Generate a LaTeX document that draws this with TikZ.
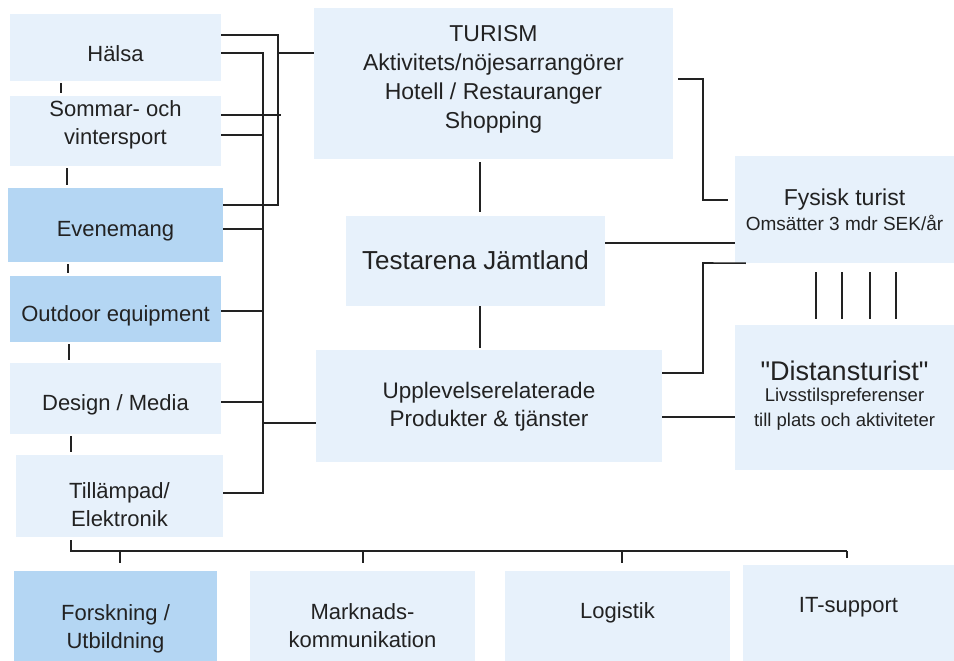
\documentclass[tikz,border=0pt]{standalone}
\usepackage{fontspec}
\setmainfont{Liberation Sans}
\definecolor{paleblue}{HTML}{E7F1FB}
\definecolor{midblue}{HTML}{B4D6F3}
\definecolor{inkgray}{HTML}{222222}
% move the lines of a box up or down, keeping the box size
\newcommand{\nudge}[2]{\raisebox{\dimexpr#1-3pt\relax}[\height][\depth]{\begin{tabular}{@{}c@{}}#2\end{tabular}}}
\tikzset{
  box/.style={fill=paleblue, inner sep=0pt, align=center, text=inkgray,
    font=\fontsize{22}{28}\selectfont},
  darkbox/.style={box, fill=midblue},
  link/.style={line width=1.6pt, draw=inkgray},
}
\begin{document}
\begin{tikzpicture}[x=1pt,y=-1pt]
\useasboundingbox (0,0) rectangle (954,661);
% left column
\node[box, minimum width=211pt, minimum height=67pt] (halsa) at (115.5,47.5) {\nudge{-5.5pt}{Hälsa}};
\node[box, minimum width=211pt, minimum height=70pt] (sommar) at (115.5,131) {\nudge{9pt}{Sommar- och\\vintersport}};
\node[darkbox, minimum width=215pt, minimum height=74pt] (evenemang) at (115.5,225) {\nudge{-3pt}{Evenemang}};
\node[darkbox, minimum width=211pt, minimum height=66pt] (outdoor) at (115.5,309) {\nudge{-4pt}{Outdoor equipment}};
\node[box, minimum width=211pt, minimum height=71pt] (design) at (115.5,398.5) {\nudge{-3.5pt}{Design / Media}};
\node[box, minimum width=207pt, minimum height=82pt] (tillampad) at (119.5,496) {\nudge{-7.5pt}{Tillämpad/\\Elektronik}};
% middle
\node[box, minimum width=359pt, minimum height=151pt, font=\fontsize{23}{29}\selectfont] (turism) at (493.5,83.5)
  {\nudge{7.5pt}{TURISM\\Aktivitets/nöjesarrangörer\\Hotell / Restauranger\\Shopping}};
\node[box, minimum width=259pt, minimum height=90pt, font=\fontsize{26}{30}\selectfont] (testarena) at (475.5,261) {\nudge{1pt}{Testarena Jämtland}};
\node[box, minimum width=346pt, minimum height=112pt, font=\fontsize{22.5}{28}\selectfont] (upplev) at (489,406)
  {\nudge{2pt}{Upplevelserelaterade\\Produkter \& tjänster}};
% right
\node[box, minimum width=219pt, minimum height=107pt, font=\fontsize{19}{25}\selectfont] (fysisk) at (844.5,209.5)
  {\nudge{0pt}{{\fontsize{23}{25}\selectfont Fysisk turist}\\Omsätter 3 mdr SEK/år}};
\node[box, minimum width=219pt, minimum height=145pt, font=\fontsize{18.5}{25}\selectfont] (distans) at (844.5,397.5)
  {\nudge{3pt}{{\fontsize{27}{27}\selectfont \textquotedbl Distansturist\textquotedbl}\\[-4pt]Livsstilspreferenser\\till plats och aktiviteter}};
% bottom row
\node[darkbox, minimum width=203pt, minimum height=90pt] (forskning) at (115.5,616) {\nudge{-10pt}{Forskning /\\Utbildning}};
\node[box, minimum width=225pt, minimum height=90pt] (marknad) at (362.5,616) {\nudge{-9pt}{Marknads-\\kommunikation}};
\node[box, minimum width=225pt, minimum height=90pt] (logistik) at (617.5,616) {\nudge{6pt}{Logistik}};
\node[box, minimum width=211pt, minimum height=96pt] (itsupport) at (848.5,613) {\nudge{9pt}{IT-support}};

% ticks down the left column
\foreach \a/\b/\x in {halsa/sommar/61, sommar/evenemang/67, evenemang/outdoor/68,
                      outdoor/design/69, design/tillampad/71}
  \draw[link, shorten <=2pt, shorten >=3pt] (\a.south -| \x,0) -- (\b.north -| \x,0);

% bus towards TURISM
\draw[link] (halsa.east |- 0,35) -| (278,205) -- (evenemang.east |- 0,205);
\draw[link] (sommar.east |- 0,115) -- (281,115);
\draw[link] (278,53) -- (turism.west |- 0,53);

% bus towards Upplevelserelaterade
\draw[link] (halsa.east |- 0,53) -| (263,493) -- (tillampad.east |- 0,493);
\foreach \n/\y in {sommar/135, evenemang/229, outdoor/311, design/402}
  \draw[link] (\n.east |- 0,\y) -- (263,\y);
\draw[link] (263,423) -- (upplev.west |- 0,423);

% middle column
\draw[link, shorten <=3pt, shorten >=4pt] (turism.south -| 480,0) -- (testarena.north -| 480,0);
\draw[link, shorten >=2pt] (testarena.south -| 480,0) -- (upplev.north -| 480,0);
\draw[link] (testarena.east |- 0,243) -- (fysisk.west |- 0,243);

% to the tourists
\draw[link, shorten <=5pt] (turism.east |- 0,79) -| (703,200) -- ([xshift=-7pt]fysisk.west |- 0,200);
\draw[link] (upplev.east |- 0,373) -| (703,263) -- ([xshift=11pt]fysisk.south west);
\draw[link] (upplev.east |- 0,417) -- (distans.west |- 0,417);
\foreach \x in {816,842,870,896}
  \draw[link, shorten <=9pt, shorten >=6pt] (fysisk.south -| \x,0) -- (distans.north -| \x,0);

% bottom bus
\draw[link, shorten <=3pt] (tillampad.south -| 71,0) -- (71,551) -- (847,551);
\foreach \n/\x in {forskning/120, marknad/363, logistik/622}
  \draw[link, shorten >=8pt] (\x,551) -- (\n.north -| \x,0);
\draw[link, shorten >=7pt] (847,551) -- (itsupport.north -| 847,0);
\end{tikzpicture}
\end{document}
